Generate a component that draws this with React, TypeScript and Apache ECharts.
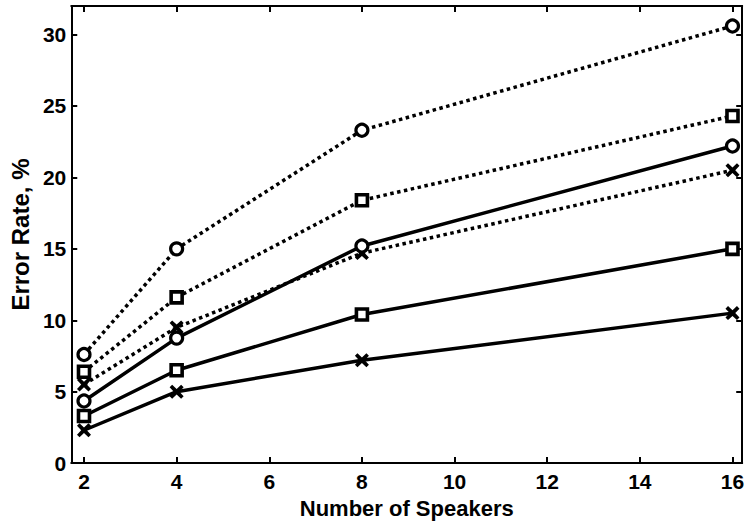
import React, { useEffect, useRef } from "react";
import * as echarts from "echarts";

const speakers = [2, 4, 8, 16];
const xTicks = [2, 4, 6, 8, 10, 12, 14, 16];
const dottedCircle = [7.6, 15.0, 23.3, 30.6];
const dottedSquare = [6.4, 11.6, 18.4, 24.3];
const dottedCross = [5.5, 9.5, 14.7, 20.5];
const solidCircle = [4.35, 8.75, 15.2, 22.2];
const solidSquare = [3.3, 6.5, 10.4, 15.0];
const solidCross = [2.3, 5.0, 7.2, 10.5];

const CROSS =
  "path://M1.8,0 L5,3 L8.2,0 L10,1.8 L7,5 L10,8.2 L8.2,10 L5,7 L1.8,10 L0,8.2 L3,5 L0,1.8 Z";

const FONT = "Liberation Sans";

export default function App() {
  const ref = useRef<HTMLDivElement>(null);
  useEffect(() => {
    if (!ref.current) return;
    const chart = echarts.init(ref.current, undefined, { renderer: "svg" });
    const series: any[] = [];
    const mk = (
      name: string,
      vals: number[],
      dotted: boolean,
      marker: "circle" | "square" | "cross"
    ) => {
      const data = speakers.map((x, i) => [x, vals[i]]);
      series.push({
        name,
        type: "line",
        data,
        showSymbol: false,
        symbol: "none",
        lineStyle: {
          color: "#000",
          width: 3.5,
          type: dotted ? [3.5, 3.5] : "solid",
          cap: "butt",
        },
        z: 2,
      });
      let symbol: string = "circle";
      let symbolSize = 12;
      let itemStyle: any = { color: "#fff", borderColor: "#000", borderWidth: 3.2, opacity: 1 };
      if (marker === "square") {
        symbol = "rect";
        symbolSize = 11;
        itemStyle = { color: "#fff", borderColor: "#000", borderWidth: 3.6, opacity: 1 };
      } else if (marker === "cross") {
        symbol = CROSS;
        symbolSize = 14;
        itemStyle = { color: "#000", borderWidth: 0, opacity: 1 };
      }
      series.push({
        name: name + " markers",
        type: "scatter",
        data,
        symbol,
        symbolSize,
        itemStyle,
        z: 4,
      });
    };
    mk("dotted circle", dottedCircle, true, "circle");
    mk("dotted square", dottedSquare, true, "square");
    mk("dotted cross", dottedCross, true, "cross");
    mk("solid circle", solidCircle, false, "circle");
    mk("solid square", solidSquare, false, "square");
    mk("solid cross", solidCross, false, "cross");

    const axisCommon = {
      axisLine: { show: true, onZero: false, lineStyle: { color: "#000", width: 2 } },
      axisTick: { show: true, inside: true, length: 6, lineStyle: { color: "#000", width: 2 } },
      splitLine: { show: false },
    };
    chart.setOption({
      animation: false,
      backgroundColor: "#fff",
      grid: { left: 60, right: 1, top: 6, bottom: 57, containLabel: false },
      xAxis: [
        {
          type: "value",
          min: 1.725,
          max: 16.21,
          position: "bottom",
          ...axisCommon,
          axisTick: { ...axisCommon.axisTick, customValues: xTicks },
          axisLabel: {
            customValues: xTicks,
            color: "#000",
            fontFamily: FONT,
            fontWeight: "bold",
            fontSize: 21,
            margin: 8,
          },
          name: "Number of Speakers",
          nameLocation: "middle",
          nameGap: 32,
          nameTextStyle: { color: "#000", fontFamily: FONT, fontWeight: "bold", fontSize: 22 },
        },
        {
          type: "value",
          min: 1.725,
          max: 16.21,
          position: "top",
          ...axisCommon,
          axisTick: { ...axisCommon.axisTick, customValues: xTicks },
          axisLabel: { show: false },
        },
      ],
      yAxis: [
        {
          type: "value",
          min: 0,
          max: 32,
          interval: 5,
          position: "left",
          ...axisCommon,
          axisLabel: {
            color: "#000",
            fontFamily: FONT,
            fontWeight: "bold",
            fontSize: 21,
            margin: 5,
            showMaxLabel: false,
          },
          name: "Error Rate, %",
          nameLocation: "middle",
          nameGap: 35,
          nameTextStyle: { color: "#000", fontFamily: FONT, fontWeight: "bold", fontSize: 24 },
        },
        {
          type: "value",
          min: 0,
          max: 32,
          interval: 5,
          position: "right",
          ...axisCommon,
          axisLabel: { show: false },
        },
      ],
      series,
    });
    return () => chart.dispose();
  }, []);
  return <div ref={ref} style={{ width: 747, height: 524, position: "absolute", left: 0, top: 0 }} />;
}
